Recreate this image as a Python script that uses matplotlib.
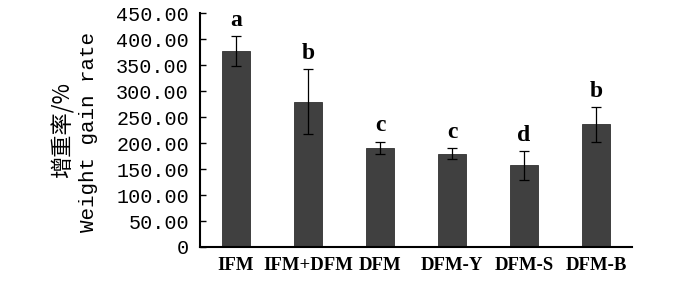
import matplotlib
matplotlib.use("Agg")
import matplotlib.pyplot as plt
import numpy as np

categories = ["IFM", "IFM+DFM", "DFM", "DFM-Y", "DFM-S", "DFM-B"]
values = [377, 280, 191, 180, 157, 236]
errors = [29, 62, 12, 11, 28, 33]
letters = ["a", "b", "c", "c", "d", "b"]
yticks = [0, 50, 100, 150, 200, 250, 300, 350, 400, 450]
ytick_labels = ["0", "50.00", "100.00", "150.00", "200.00", "250.00",
                "300.00", "350.00", "400.00", "450.00"]

fig = plt.figure(figsize=(7.0, 2.81), dpi=100)
ax = fig.add_axes([0.2857, 0.121, 0.6172, 0.8317])

x = np.arange(len(categories))
ax.bar(x, values, width=0.39, color="#404040", edgecolor="#303030", linewidth=0.6, zorder=2)
ax.errorbar(x, values, yerr=errors, fmt="none", ecolor="black", elinewidth=0.9,
            capsize=3.5, capthick=0.9, zorder=3)
for xi, v, e, l in zip(x, values, errors, letters):
    ax.text(xi, v + e + 10, l, ha="center", va="bottom", fontsize=17,
            family="Liberation Serif", weight="bold")

ax.set_xlim(-0.5, 5.5)
ax.set_ylim(0, 450)
ax.set_yticks(yticks)
ax.set_yticklabels(ytick_labels, family="Liberation Mono", fontsize=14.5)
ax.set_xticks(x)
ax.set_xticklabels(categories, family="Liberation Serif", weight="bold", fontsize=13.5)
ax.tick_params(axis="y", direction="in", length=4, width=1, pad=8)
ax.tick_params(axis="x", length=0, pad=7)
for s in ["top", "right"]:
    ax.spines[s].set_visible(False)
for s in ["left", "bottom"]:
    ax.spines[s].set_linewidth(1.5)

fig.text(0.09, 0.536, "增重率/%", rotation=90, ha="center", va="center",
         fontsize=16, family=["Noto Sans CJK SC", "DejaVu Sans"])
fig.text(0.127, 0.532, "Weight gain rate", rotation=90, ha="center", va="center",
         fontsize=15, family="Liberation Mono")

fig.savefig("out.png", dpi=100)
